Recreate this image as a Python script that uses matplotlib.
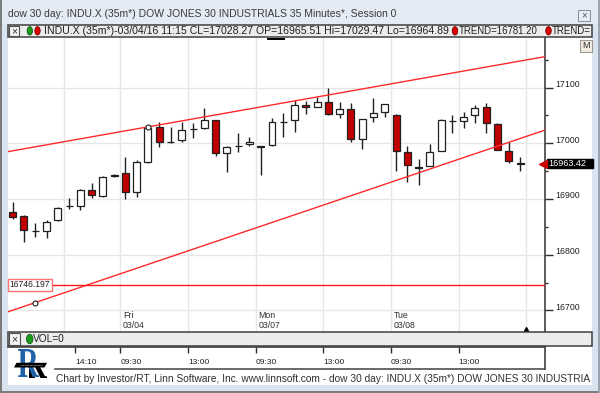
import matplotlib
matplotlib.use('Agg')
import matplotlib.pyplot as plt
from matplotlib.patches import Rectangle, Ellipse, Polygon, PathPatch
from matplotlib.transforms import offset_copy, Affine2D
from matplotlib.textpath import TextPath
from matplotlib.font_manager import FontProperties
import numpy as np

plt.rcParams['font.family'] = ['Liberation Sans', 'DejaVu Sans']

W, H = 600, 393

# ---------------- data ----------------
opens = [16877, 16869, 16843, 16843, 16862, 16887, 16888, 16917, 16905, 16943,
         16946, 16913, 16965.51, 17029, 17003, 17005, 17025, 17027, 17041, 16983,
         16996, 16999, 16994.5, 16997, 17038.5, 17042, 17069, 17065, 17074, 17053,
         17062, 17008, 17047, 17057, 17051, 16984, 16957.5, 16960, 16987, 17040.5,
         17039.5, 17051, 17065, 17035, 16987, 16965]
highs = [16894, 16871, 16856, 16862, 16885, 16901, 16918, 16928, 16941, 16944,
         16976, 16970, 17029.47, 17039, 17030, 17039, 17036, 17063, 17042, 16995,
         17018, 17011, 16995, 17045, 17054, 17078, 17076, 17083, 17099, 17075,
         17072, 17044, 17081, 17070, 17052, 16995, 16972, 16999, 17043, 17051,
         17056, 17069, 17073, 17036, 17002, 16975]
lows = [16864, 16822, 16831, 16830, 16860, 16882, 16880, 16901, 16903, 16940,
        16900, 16903, 16964.89, 16993, 17001, 17003, 17009, 17026, 16977, 16949,
        16985, 16995, 16943, 16996, 17012, 17021, 17053, 17065, 17051, 17045,
        17003, 16989, 17039, 17047, 16950, 16931, 16925, 16960, 16987, 17018,
        17027, 17037, 17019, 16988, 16964, 16951]
closes = [16868, 16844, 16843, 16859, 16884, 16887, 16917, 16907, 16940, 16941.5,
          16913, 16967, 17028.27, 17002, 17001.5, 17024, 17025, 17042, 16983, 16994,
          16996, 17003, 16993, 17039, 17037.5, 17069, 17065, 17075, 17053, 17062,
          17008, 17044, 17054, 17070, 16986, 16961, 16956.5, 16985, 17041, 17039.5,
          17047, 17064, 17036, 16988, 16968, 16963.42]

last_price = 16963.42
level_price = 16746.197
upper_anchor = (12, 17029.47)
upper_slope = 3.58
lower_anchor = (2, 16714.0)
lower_slope = 6.85
current_bar = 45

price_ticks = [16700, 16800, 16900, 17000, 17100]
price_minor = [16750, 16850, 16950, 17050, 17150]
time_tick_bars = [5, 9, 15, 21, 27, 33, 39]
time_tick_labels = ['14:10', '09:30', '13:00', '09:30', '13:00', '09:30', '13:00']
grid_bars = [4, 9, 15, 21, 27, 33, 39, 45]
day_bars = [9, 21, 33]
day_names = ['Fri', 'Mon', 'Tue']
day_dates = ['03/04', '03/07', '03/08']

title_text = 'dow 30 day: INDU.X (35m*) DOW JONES 30 INDUSTRIALS 35 Minutes*, Session 0'
header_text = 'INDU.X (35m*)-03/04/16 11:15 CL=17028.27 OP=16965.51 Hi=17029.47 Lo=16964.89'
trend_text = 'TREND=16781.20'
footer_text = ('Chart by Investor/RT, Linn Software, Inc. www.linnsoft.com - '
               'dow 30 day: INDU.X (35m*) DOW JONES 30 INDUSTRIA')

# ---------------- figure ----------------
fig = plt.figure(figsize=(6, 3.93), dpi=100, facecolor='#d9e4f1')
renderer = fig.canvas.get_renderer()

bg = fig.add_axes([0, 0, 1, 1], zorder=0)
bg.set_xlim(0, W); bg.set_ylim(H, 0); bg.axis('off')
bg.add_patch(Rectangle((0, 0), W, 24, fc='#e4ebf4', ec='none'))
bg.add_patch(Rectangle((7.5, 37), 584.5, 295, fc='white', ec='none'))
bg.add_patch(Rectangle((7.5, 346), 584.5, 39, fc='white', ec='none'))
bg.plot([0.7, 0.7], [0, H], color='#7a7a7a', lw=1.4)
bg.plot([0, W], [392.3, 392.3], color='#7a7a7a', lw=1.4)
bg.plot([599.3, 599.3], [0, H], color='#9aa4b0', lw=1.4)

# main price axes
L, R, T, B = 7.5, 544.5, 37.0, 332.0
ax = fig.add_axes([L / W, 1 - B / H, (R - L) / W, (B - T) / H], zorder=1)
ax.set_facecolor('white')
ax.set_xlim(-0.46, 47.17)
ax.set_ylim(16661.2, 17190.8)
for s in ['left', 'top', 'bottom']:
    ax.spines[s].set_visible(False)
ax.spines['right'].set_color('#404040')
ax.spines['right'].set_linewidth(1.2)

for p in price_ticks:
    ax.axhline(p, color='#e6e6e6', lw=1, zorder=0)
for g in grid_bars:
    ax.axvline(g + 0.55, color='#e6e6e6', lw=1, zorder=0)

ax.yaxis.tick_right()
ax.set_yticks(price_ticks)
ax.set_yticks(price_minor, minor=True)
ax.tick_params(axis='y', which='major', length=6, width=1, color='#303030', labelright=False)
ax.tick_params(axis='y', which='minor', length=2.5, width=1, color='#303030')
ax.set_xticks([])
ytr = offset_copy(ax.get_yaxis_transform(), fig=fig, x=0, y=3, units='dots')
for p in price_ticks:
    ax.text(1 + 11.2 / (R - L), p, str(p), transform=ytr, ha='left', va='center',
            fontsize=6.3, color='#202020', clip_on=False)

# candles
x = np.arange(len(opens))
o = np.array(opens); c = np.array(closes); hi = np.array(highs); lo = np.array(lows)
ax.vlines(x, lo, hi, color='#202020', lw=1, zorder=3)
face = ['#c00000' if cc < oo else 'white' for oo, cc in zip(o, c)]
ax.bar(x, c - o, bottom=o, width=0.62, color=face, edgecolor='#202020',
       linewidth=0.9, zorder=4)

# trend lines
xs = np.array(ax.get_xlim())
ax.plot(xs, upper_anchor[1] + upper_slope * (xs - upper_anchor[0]), color='#ff2a2a', lw=1, zorder=5)
ax.plot(xs, lower_anchor[1] + lower_slope * (xs - lower_anchor[0]), color='#ff2a2a', lw=1, zorder=5)
for a in (upper_anchor, lower_anchor):
    ax.plot(a[0], a[1], 'o', mfc='white', mec='#202020', ms=3.6, mew=0.8, zorder=6)

# horizontal level
ax.axhline(level_price, color='#ff1a1a', lw=1, zorder=5)
ax.text(2.2 / (R - L), level_price, f'{level_price:.3f}', transform=ax.get_yaxis_transform(),
        ha='left', va='center', fontsize=6.2, color='#202020', zorder=7,
        bbox=dict(boxstyle='square,pad=0.18', fc='white', ec='#ff7070', lw=1))

# last price label
ax.add_patch(Rectangle(((546.7 - L) / (R - L), last_price - 8.4), 46 / (R - L), 16.8,
                       transform=ax.get_yaxis_transform(), fc='black', ec='black',
                       clip_on=False, zorder=7))
ax.text((548.5 - L) / (R - L), last_price, f'{last_price:.2f}', transform=ax.get_yaxis_transform(),
        ha='left', va='center', fontsize=6.6, color='white', clip_on=False, zorder=8)
ax.plot((543.3 - L) / (R - L), last_price, marker='<', ms=6.2, color='#cc0000', mec='#cc0000',
        transform=ax.get_yaxis_transform(), clip_on=False, zorder=8)

# day labels
xtr = ax.get_xaxis_transform()
for b, n, d in zip(day_bars, day_names, day_dates):
    ax.text(b + 0.55 + 0.22, (B - 316) / (B - T), n, transform=xtr, ha='left', va='center',
            fontsize=6.3, color='#303030')
    ax.text(b + 0.55 + 0.22, (B - 326) / (B - T), d, transform=xtr, ha='left', va='center',
            fontsize=6.3, color='#303030')
ax.plot(current_bar + 0.55, (B - 329.5) / (B - T), marker='^', ms=4, color='black',
        transform=xtr, clip_on=False, zorder=8)

# bottom time axis
B2T, B2B = 346.5, 369.3
ax2 = fig.add_axes([L / W, 1 - B2B / H, (R - L) / W, (B2B - B2T) / H], zorder=1)
ax2.set_facecolor('none')
ax2.set_xlim(ax.get_xlim()); ax2.set_ylim(0, 1)
for s in ['left', 'bottom']:
    ax2.spines[s].set_visible(False)
for s in ['top', 'right']:
    ax2.spines[s].set_color('#404040'); ax2.spines[s].set_linewidth(1.2)
ticks_x = [b + 0.55 for b in time_tick_bars]
ax2.set_xticks(ticks_x)
ax2.set_yticks([])
ax2.tick_params(axis='x', top=True, bottom=False, direction='in', length=4.5, width=1,
                color='#303030', labeltop=False, labelbottom=False)
for tx, lab in zip(ticks_x, time_tick_labels):
    ax2.text(tx, (B2B - 363) / (B2B - B2T), lab, ha='left', va='center', fontsize=6.1,
             color='#202020')

# ---------------- overlay (chrome) ----------------
ov = fig.add_axes([0, 0, 1, 1], zorder=5)
ov.set_facecolor('none')
ov.set_xlim(0, W); ov.set_ylim(H, 0); ov.axis('off')


def fit_text(x0, x1, y, s, **kw):
    t = ov.text(x0, y, s, ha='left', va='center', fontsize=8, **kw)
    w = t.get_window_extent(renderer).width
    t.set_fontsize(8 * (x1 - x0) / w)
    return t


fit_text(7.7, 396, 14, title_text, color='#3a3a3a')
# close button
ov.add_patch(Rectangle((578, 10), 12, 11, fc='#e9edf3', ec='#8a96a4', lw=0.8))
ov.text(584, 15.5, '×', ha='center', va='center', fontsize=7, color='#505a66')

# header row
ov.add_patch(Rectangle((7.5, 24.5), 584.5, 12.5, fc='#ececec', ec='#404040', lw=1.1))
ov.add_patch(Rectangle((8.8, 25.5), 10.5, 10.5, fc='#f4f4f4', ec='#505050', lw=0.8))
ov.text(14, 31, '×', ha='center', va='center', fontsize=7.5, color='#303030')
ov.add_patch(Ellipse((29.8, 30.8), 5.4, 8.5, fc='#1a9a1a', ec='#0a4a0a', lw=0.5))
ov.add_patch(Ellipse((37.5, 30.8), 5.4, 8.5, fc='#e00000', ec='#600000', lw=0.5))
fit_text(44, 447, 31, header_text, color='#202020')
ov.add_patch(Ellipse((455, 30.8), 5.6, 8.5, fc='#e00000', ec='#600000', lw=0.5))
fit_text(458.5, 538, 31, trend_text, color='#202020')
ov.add_patch(Ellipse((548.5, 30.8), 5.6, 8.5, fc='#e00000', ec='#600000', lw=0.5))
fit_text(552, 591, 31, 'TREND=', color='#202020')

# M button
ov.add_patch(Rectangle((580, 39.5), 12, 12.5, fc='#f1ede2', ec='#a09a90', lw=0.8))
ov.text(586, 46, 'M', ha='center', va='center', fontsize=6.5, color='#303030')

# cursor mark
ov.plot([267, 285], [38.6, 38.6], color='black', lw=1.4, solid_capstyle='butt')

# VOL bar
ov.add_patch(Rectangle((7.5, 332), 584.5, 14, fc='#ececec', ec='#404040', lw=1.1))
ov.add_patch(Rectangle((8.5, 333.3), 11.5, 11.5, fc='#f4f4f4', ec='#505050', lw=0.8))
ov.text(14.2, 339.2, '×', ha='center', va='center', fontsize=7.5, color='#303030')
ov.add_patch(Ellipse((29.7, 339), 6.5, 9.5, fc='#1a9a1a', ec='#0a4a0a', lw=0.5))
fit_text(33.3, 65, 339.2, 'VOL=0', color='#202020')

# bottom axis baseline
ov.plot([55, 544.5], [369.3, 369.3], color='#505050', lw=1.2)

# logo (glyph drawn as a path so it can be squeezed into its box)
tp = TextPath((0, 0), 'R', size=10, prop=FontProperties(family='Liberation Serif', weight='bold'))
ext = tp.get_extents()


def glyph_transform(x0, y_base, w, h):
    return (Affine2D().translate(-ext.x0, -ext.y0).scale(w / ext.width, -h / ext.height)
            .translate(x0, y_base) + ov.transData)


shadow = PathPatch(tp, transform=glyph_transform(25, 378, 22, 27), fc='black', ec='none')
ov.add_patch(shadow)
clip = Rectangle((29, 364), 22, 16, transform=ov.transData, fc='none', ec='none')
shadow.set_clip_path(clip)
ov.add_patch(PathPatch(tp, transform=glyph_transform(18, 377, 21, 28), fc='#1f63a6', ec='none'))
ov.add_patch(Polygon([[14, 367.5], [16.5, 362.8], [47, 362.8], [44.5, 367.5]], closed=True,
                     fc='black', ec='none'))
ov.plot([20, 42], [365.2, 365.2], color='#9a9a9a', lw=0.6, ls=(0, (1, 0.6)))

fit_text(55.8, 592, 379.5, footer_text, color='#303030')

fig.savefig('out.png', dpi=100, facecolor=fig.get_facecolor())
